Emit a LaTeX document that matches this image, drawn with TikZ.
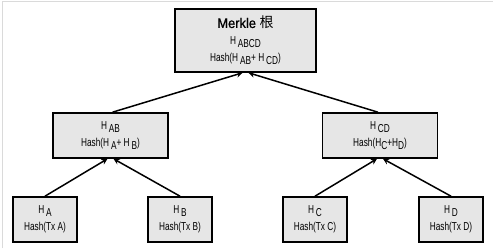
\documentclass[tikz,border=0pt]{standalone}
\usepackage{fontspec}
\setmainfont{Liberation Sans}[FakeStretch=0.72]
\newfontfamily\titlefont{Liberation Sans}[FakeStretch=0.92,FakeBold=0.6]
\newfontfamily\cjkfont{Noto Sans CJK SC}
\usetikzlibrary{arrows.meta}
\definecolor{boxgray}{HTML}{E6E6E6}
\definecolor{framegray}{HTML}{DADADA}
\tikzset{
  hashbox/.style={draw,line width=1.6pt,fill=boxgray,align=center,inner sep=0pt,
    font=\fontsize{11.5}{17}\selectfont},
  leafbox/.style={hashbox,minimum width=64pt,minimum height=45pt},
  midbox/.style={hashbox,minimum width=115pt,minimum height=45pt},
  hasharrow/.style={-{Stealth[length=6pt,width=6pt]},line width=1.5pt},
}
\newcommand{\hsub}[1]{H\,\raisebox{-0.45ex}{#1}}

\begin{document}
\begin{tikzpicture}[x=1pt,y=-1pt]
  \useasboundingbox (0,0) rectangle (493,251);
  \draw[framegray,line width=1pt] (2,248) -- (2,2) -- (493,2);
  % root
  \node[hashbox,minimum width=141pt,minimum height=63pt] (root) at (245.5,40.5)
    {{\titlefont\fontsize{14}{17}\selectfont Merkle {\cjkfont\fontsize{14}{17}\selectfont 根}}\\ \hsub{ABCD}\\ Hash(\hsub{AB}+ \hsub{CD})};
  % middle row
  \node[midbox] (ab) at (110.5,135.5) {\hsub{AB}\\ Hash(\hsub{A}+ \hsub{B})};
  \node[midbox] (cd) at (380,135.5) {\hsub{CD}\\ Hash(H\raisebox{-0.45ex}{C}+H\raisebox{-0.45ex}{D})};
  % leaves
  \node[leafbox] (a) at (45,219.5) {\hsub{A}\\ Hash(Tx A)};
  \node[leafbox] (b) at (180,219.5) {\hsub{B}\\ Hash(Tx B)};
  \node[leafbox] (c) at (315,219.5) {\hsub{C}\\ Hash(Tx C)};
  \node[leafbox] (d) at (451,219.5) {\hsub{D}\\ Hash(Tx D)};
  % arrows
  \draw[hasharrow] (a.north) -- ([xshift=-3pt]ab.south);
  \draw[hasharrow] (b.north) -- ([xshift=3pt]ab.south);
  \draw[hasharrow] (c.north) -- ([xshift=-3pt]cd.south);
  \draw[hasharrow] (d.north) -- ([xshift=3pt]cd.south);
  \draw[hasharrow] ([xshift=2pt]ab.north) -- ([xshift=-3pt]root.south);
  \draw[hasharrow] ([xshift=-2pt]cd.north) -- ([xshift=3pt]root.south);
\end{tikzpicture}
\end{document}
